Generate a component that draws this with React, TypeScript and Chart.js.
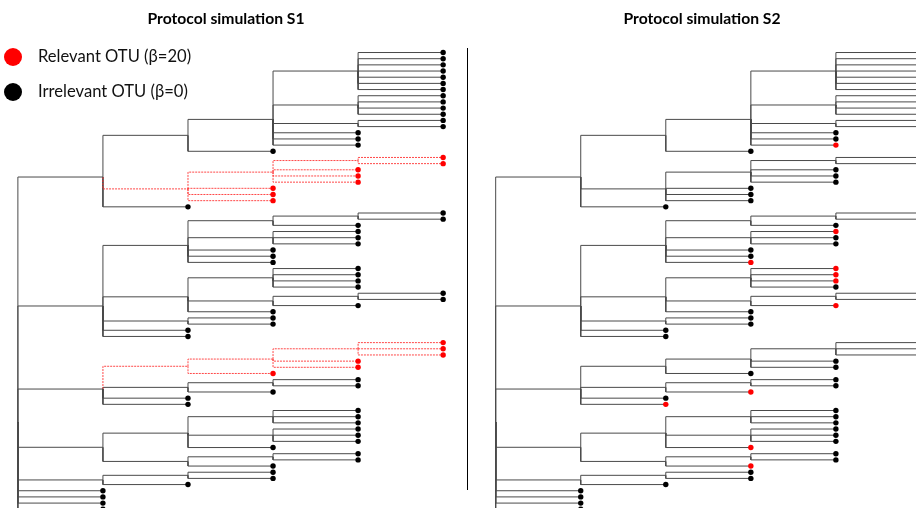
import React, { useEffect, useRef } from 'react';
import { Chart, registerables } from 'chart.js';

Chart.register(...registerables);

type TreeNode = number | TreeNode[];

// ---------- data ----------
const PANEL_TITLES = ['Protocol simulation S1', 'Protocol simulation S2'];
const LEGEND_LABELS = ['Relevant OTU (β=20)', 'Irrelevant OTU (β=0)'];

// Cladogram topology (leaf ids in top-to-bottom order), unit branch lengths
const CLADE_1: TreeNode = [
  [[[0, 1, 2, 3, 4, 5, 6], [7, 8, 9, 10], [11, 12], 13, 14, 15], 16],
  [[[17, 18], 19, 20, 21], 22, 23, 24],
  25,
];
const CLADE_2: TreeNode = [
  [[[26, 27], 28], [29, 30, 31], 32, 33, 34],
  [[35, 36, 37, 38], [[39, 40], 41], 42],
  [43, 44],
  45,
  46,
];
const CLADE_3: TreeNode = [
  [[[47, 48, 49], 50, 51], 52],
  [[53, 54], 55],
  56,
  57,
];
const CLADE_4: TreeNode = [
  [[58, 59, 60], [61, 62, 63], 64],
  [[65, 66], 67],
];
const CLADE_5: TreeNode = [[68, 69], 70];
const ROOT_LEAVES = [71, 72, 73, 74];

const RELEVANT_S1 = [17, 18, 19, 20, 21, 22, 23, 24, 47, 48, 49, 50, 51, 52];
const RELEVANT_S2 = [15, 29, 34, 35, 36, 37, 41, 55, 57, 64, 67];
const DASH_RELEVANT_EDGES = [true, false];

// ---------- layout constants ----------
const W = 920;
const H = 512;
const DEPTH_PX = 85.8;
const LEAF_PX = 6.27;
const X0 = 14; // px of left root
const Y0 = 49.3; // px of first leaf
const PANEL_OFFSET = [0, 482 / DEPTH_PX];
const X_MIN = -X0 / DEPTH_PX;
const X_MAX = X_MIN + W / DEPTH_PX;
const Y_MIN = -Y0 / LEAF_PX;
const Y_MAX = Y_MIN + H / LEAF_PX;

interface Laid {
  x: number;
  y: number;
  id: number | null;
  leaves: number[];
  children: Laid[];
}

function layout(node: TreeNode, depth: number, counter: { i: number }): Laid {
  if (typeof node === 'number') {
    const y = counter.i++;
    return { x: depth, y, id: node, leaves: [node], children: [] };
  }
  const children = node.map((c) => layout(c, depth + 1, counter));
  const y = children.reduce((s, c) => s + c.y, 0) / children.length;
  return { x: depth, y, id: null, leaves: children.flatMap((c) => c.leaves), children };
}

const BLACK = '#4a4a4a';
const RED = 'rgba(255,40,40,0.85)';

function buildDatasets(panel: number, relevant: number[], dashEdges: boolean) {
  const tree: TreeNode = [CLADE_1, CLADE_2, CLADE_3, CLADE_4, CLADE_5, ...ROOT_LEAVES];
  const root = layout(tree, 0, { i: 0 });
  const off = PANEL_OFFSET[panel];
  const sets: any[] = [];
  const leafPts: { x: number; y: number }[] = [];
  const leafCols: string[] = [];
  const walk = (n: Laid) => {
    if (n.id !== null) {
      leafPts.push({ x: n.x + off, y: n.y });
      leafCols.push(relevant.includes(n.id) ? '#ff0000' : '#000000');
    }
    n.children.forEach((c) => {
      const red = dashEdges && c.leaves.every((l) => relevant.includes(l));
      sets.push({
        data: [
          { x: n.x + off, y: n.y },
          { x: n.x + off, y: c.y },
          { x: c.x + off, y: c.y },
        ],
        showLine: true,
        borderColor: red ? RED : BLACK,
        borderWidth: 1,
        borderDash: red ? [2, 1] : [],
        pointRadius: 0,
        tension: 0,
        fill: false,
        order: 2,
      });
      walk(c);
    });
  };
  walk(root);
  sets.push({
    data: leafPts,
    showLine: false,
    pointRadius: 2.7,
    pointBorderWidth: 0,
    pointBackgroundColor: leafCols,
    order: 0,
  });
  return sets;
}

export default function App() {
  const ref = useRef<HTMLCanvasElement | null>(null);
  useEffect(() => {
    document.body.style.margin = '0';
    if (!ref.current) return;
    const datasets = [
      ...buildDatasets(0, RELEVANT_S1, DASH_RELEVANT_EDGES[0]),
      ...buildDatasets(1, RELEVANT_S2, DASH_RELEVANT_EDGES[1]),
    ];
    const chart = new Chart(ref.current, {
      type: 'scatter',
      data: { datasets },
      options: {
        animation: false,
        responsive: false,
        devicePixelRatio: 1,
        events: [],
        layout: { padding: 0 },
        plugins: { legend: { display: false }, tooltip: { enabled: false }, title: { display: false } },
        scales: {
          x: { type: 'linear', min: X_MIN, max: X_MAX, display: false },
          y: { type: 'linear', min: Y_MIN, max: Y_MAX, reverse: true, display: false },
        },
      },
    });
    return () => chart.destroy();
  }, []);

  const font = 'Lato, "Open Sans", sans-serif';
  return (
    <div style={{ position: 'fixed', left: 0, top: 0, width: W, height: H, background: '#fff', overflow: 'hidden' }}>
      <canvas ref={ref} width={W} height={H} style={{ position: 'absolute', left: 0, top: 0 }} />
      {PANEL_TITLES.map((t, i) => (
        <div
          key={t}
          style={{
            position: 'absolute',
            left: i === 0 ? 226 - 120 : 702 - 120,
            width: 240,
            top: 8,
            textAlign: 'center',
            fontFamily: font,
            fontWeight: 700,
            fontSize: 15.7,
            lineHeight: '20px',
            color: '#000',
          }}
        >
          {t}
        </div>
      ))}
      {LEGEND_LABELS.map((t, i) => (
        <React.Fragment key={t}>
          <div
            style={{
              position: 'absolute',
              left: 3.5,
              top: (i === 0 ? 57 : 92) - 9,
              width: 18,
              height: 18,
              borderRadius: '50%',
              background: i === 0 ? '#ff0000' : '#000000',
            }}
          />
          <div
            style={{
              position: 'absolute',
              left: 38,
              top: (i === 0 ? 56 : 90.5) - 11,
              fontFamily: font,
              fontSize: 16.6,
              lineHeight: '22px',
              color: '#111',
              whiteSpace: 'nowrap',
            }}
          >
            {t}
          </div>
        </React.Fragment>
      ))}
      <div style={{ position: 'absolute', left: 467, top: 48, width: 1, height: 442, background: '#000' }} />
    </div>
  );
}
